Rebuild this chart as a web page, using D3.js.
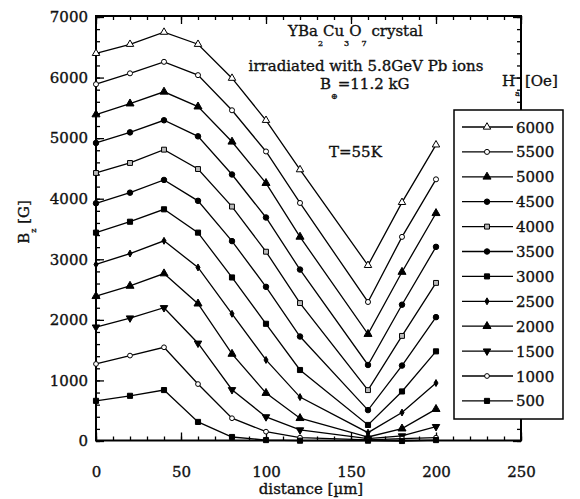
<!DOCTYPE html>
<html>
<head>
<meta charset="utf-8">
<script src="https://cdn.jsdelivr.net/npm/d3@7"></script>
<style>
  body { margin: 0; background: #fff; }
  svg text { font-family: "DejaVu Serif", "Liberation Serif", serif; fill: #111; stroke: #111; stroke-width: 0.35px; }
</style>
</head>
<body>
<div id="chart"></div>
<script>
// distance [um] where Bz was measured
const distances = [0, 20, 40, 60, 80, 100, 120, 160, 180, 200];

// applied field Ha [Oe], top of legend first
const fields = [6000, 5500, 5000, 4500, 4000, 3500, 3000, 2500, 2000, 1500, 1000, 500];

// Bz [G] for each field
const bz6000 = [6400, 6550, 6750, 6550, 5990, 5295, 4480, 2900, 3940, 4890];
const bz5500 = [5890, 6070, 6260, 6040, 5460, 4780, 3930, 2295, 3370, 4320];
const bz5000 = [5390, 5570, 5765, 5520, 4940, 4257, 3370, 1765, 2790, 3760];
const bz4500 = [4920, 5095, 5295, 5030, 4400, 3690, 2830, 1255, 2250, 3205];
const bz4000 = [4425, 4590, 4810, 4490, 3870, 3125, 2277, 840, 1735, 2610];
const bz3500 = [3925, 4100, 4310, 3965, 3300, 2545, 1725, 510, 1245, 2045];
const bz3000 = [3440, 3620, 3825, 3440, 2700, 1935, 1172, 265, 818, 1480];
const bz2500 = [2915, 3095, 3305, 2865, 2100, 1338, 725, 138, 470, 957];
const bz2000 = [2390, 2560, 2765, 2267, 1437, 791, 376, 66, 204, 526];
const bz1500 = [1880, 2030, 2200, 1614, 846, 398, 182, 40, 83, 237];
const bz1000 = [1272, 1410, 1547, 940, 376, 154, 55, 20, 40, 55];
const bz500 = [663, 746, 841, 315, 66, 15, 5, 5, 0, 15];

const seriesValues = [bz6000, bz5500, bz5000, bz4500, bz4000, bz3500,
  bz3000, bz2500, bz2000, bz1500, bz1000, bz500];

// tick labels
const xTicks = [0, 50, 100, 150, 200, 250];
const yTicks = [0, 1000, 2000, 3000, 4000, 5000, 6000, 7000];

// marker for each series: shape, filled or not
const markers = [
  {shape: d3.symbolTriangle, fill: "#fff", size: 24},
  {shape: d3.symbolCircle, fill: "#fff", size: 20},
  {shape: d3.symbolTriangle, fill: "#000", size: 28},
  {shape: d3.symbolCircle, fill: "#000", size: 24},
  {shape: d3.symbolSquare, fill: "#bbb", size: 24},
  {shape: d3.symbolCircle, fill: "#000", size: 24},
  {shape: d3.symbolSquare, fill: "#000", size: 26},
  {shape: d3.symbolDiamond, fill: "#000", size: 14},
  {shape: d3.symbolTriangle, fill: "#000", size: 28},
  {shape: d3.symbolTriangle, fill: "#000", size: 24, flip: true},
  {shape: d3.symbolCircle, fill: "#fff", size: 18},
  {shape: d3.symbolSquare, fill: "#000", size: 26}
];

const W = 580, H = 499;
const plot = {left: 96, right: 521, top: 16, bottom: 440.5};

const svg = d3.select("#chart").append("svg")
  .attr("width", W)
  .attr("height", H);

const x = d3.scaleLinear().domain([0, 250]).range([plot.left, plot.right]);
const y = d3.scaleLinear().domain([0, 7000]).range([441, 17]);

// minor ticks (inward, no labels) on all four sides
function minorAxis(axisFn, scale, vals) {
  return axisFn(scale).tickValues(vals).tickSizeInner(-4).tickSizeOuter(0).tickFormat("");
}
const xMinor = d3.range(0, 251, 10);
const yMinor = d3.range(0, 7001, 200);

svg.append("g").attr("class", "axis")
  .attr("transform", `translate(0,${plot.bottom})`)
  .call(minorAxis(d3.axisBottom, x, xMinor));
svg.append("g").attr("class", "axis")
  .attr("transform", `translate(0,${plot.top})`)
  .call(minorAxis(d3.axisTop, x, xMinor));
svg.append("g").attr("class", "axis")
  .attr("transform", `translate(${plot.left},0)`)
  .call(minorAxis(d3.axisLeft, y, yMinor));
svg.append("g").attr("class", "axis")
  .attr("transform", `translate(${plot.right},0)`)
  .call(minorAxis(d3.axisRight, y, yMinor));

// major ticks with labels
const fmt = d3.format("d");
svg.append("g").attr("class", "axis major")
  .attr("transform", `translate(0,${plot.bottom})`)
  .call(d3.axisBottom(x).tickValues(xTicks).tickFormat(fmt).tickSizeInner(-8).tickSizeOuter(0).tickPadding(26));
svg.append("g").attr("class", "axis major")
  .attr("transform", `translate(0,${plot.top})`)
  .call(d3.axisTop(x).tickValues(xTicks).tickSizeInner(-8).tickSizeOuter(0).tickFormat(""));
svg.append("g").attr("class", "axis major")
  .attr("transform", `translate(${plot.left},0)`)
  .call(d3.axisLeft(y).tickValues(yTicks).tickFormat(fmt).tickSizeInner(-8).tickSizeOuter(0).tickPadding(8));
svg.append("g").attr("class", "axis major")
  .attr("transform", `translate(${plot.right},0)`)
  .call(d3.axisRight(y).tickValues(yTicks).tickSizeInner(-8).tickSizeOuter(0).tickFormat(""));

svg.selectAll(".axis path").remove();
svg.selectAll(".axis line").attr("stroke", "#000").attr("stroke-width", 1.3);
svg.selectAll(".axis text")
  .style("font-size", "15px")
  .attr("fill", "#111");

// frame
svg.append("rect")
  .attr("x", plot.left)
  .attr("y", plot.top)
  .attr("width", plot.right - plot.left)
  .attr("height", plot.bottom - plot.top)
  .attr("fill", "none")
  .attr("stroke", "#000")
  .attr("stroke-width", 2);

// curves
const line = d3.line()
  .x(function(d) { return x(d[0]); })
  .y(function(d) { return y(d[1]); });

function markerPath(m) {
  return d3.symbol().type(m.shape).size(m.size)();
}

seriesValues.forEach(function(vals, i) {
  const pts = distances.map(function(d, j) { return [d, vals[j]]; });
  svg.append("path")
    .datum(pts)
    .attr("d", line)
    .attr("fill", "none")
    .attr("stroke", "#000")
    .attr("stroke-width", 1.3);

  const m = markers[i];
  svg.selectAll(".m" + i)
    .data(pts)
    .enter()
    .append("path")
    .attr("class", "m" + i)
    .attr("d", markerPath(m))
    .attr("transform", function(d) {
      return `translate(${x(d[0])},${y(d[1])})` + (m.flip ? " rotate(180)" : "");
    })
    .attr("fill", m.fill)
    .attr("stroke", "#000")
    .attr("stroke-width", 1);
});

// legend
const legend = svg.append("g");
legend.append("rect")
  .attr("x", 454)
  .attr("y", 110)
  .attr("width", 109)
  .attr("height", 309)
  .attr("fill", "#fff")
  .attr("stroke", "#000")
  .attr("stroke-width", 1.5);

fields.forEach(function(f, i) {
  const ly = 127 + i * 24.9;
  legend.append("line")
    .attr("x1", 462).attr("x2", 513)
    .attr("y1", ly).attr("y2", ly)
    .attr("stroke", "#000")
    .attr("stroke-width", 1.3);
  const m = markers[i];
  legend.append("path")
    .attr("d", markerPath(m))
    .attr("transform", `translate(487,${ly})` + (m.flip ? " rotate(180)" : ""))
    .attr("fill", m.fill)
    .attr("stroke", "#000")
    .attr("stroke-width", 1);
  legend.append("text")
    .attr("x", 516)
    .attr("y", ly + 5.5)
    .style("font-size", "15px")
    .text(f);
});

// legend title  H_a [Oe]
const ht = svg.append("text").attr("x", 502).attr("y", 86).style("font-size", "15px");
ht.append("tspan").text("H");
ht.append("tspan").attr("dy", 10).style("font-size", "8px").text("a");
ht.append("tspan").attr("dy", -10).attr("dx", 5).text("[Oe]");

// annotation block
const t1 = svg.append("text").attr("x", 288).attr("y", 36).style("font-size", "15px");
t1.append("tspan").text("YBa");
t1.append("tspan").attr("dy", 10).style("font-size", "8px").text("2");
t1.append("tspan").attr("dy", -10).text("Cu");
t1.append("tspan").attr("dy", 10).style("font-size", "8px").text("3");
t1.append("tspan").attr("dy", -10).text("O");
t1.append("tspan").attr("dy", 10).style("font-size", "8px").text("7");
t1.append("tspan").attr("dy", -10).text(" crystal");

svg.append("text")
  .attr("x", 366).attr("y", 71)
  .attr("text-anchor", "middle")
  .style("font-size", "15px")
  .text("irradiated with 5.8GeV Pb ions");

const t3 = svg.append("text").attr("x", 320).attr("y", 89).style("font-size", "15px");
t3.append("tspan").text("B");
t3.append("tspan").attr("dy", 10).style("font-size", "8px").text("\u2295");
t3.append("tspan").attr("dy", -10).text("=11.2 kG");

svg.append("text")
  .attr("x", 329).attr("y", 157)
  .style("font-size", "15px")
  .text("T=55K");

// axis titles
svg.append("text")
  .attr("x", 311).attr("y", 494)
  .attr("text-anchor", "middle")
  .style("font-size", "15px")
  .text("distance [\u00b5m]");

const yl = svg.append("text")
  .attr("transform", "translate(29,222) rotate(-90)")
  .attr("text-anchor", "middle")
  .style("font-size", "15px");
yl.append("tspan").text("B");
yl.append("tspan").attr("dy", 7).style("font-size", "8px").text("z");
yl.append("tspan").attr("dy", -7).text(" [G]");
</script>
</body>
</html>
